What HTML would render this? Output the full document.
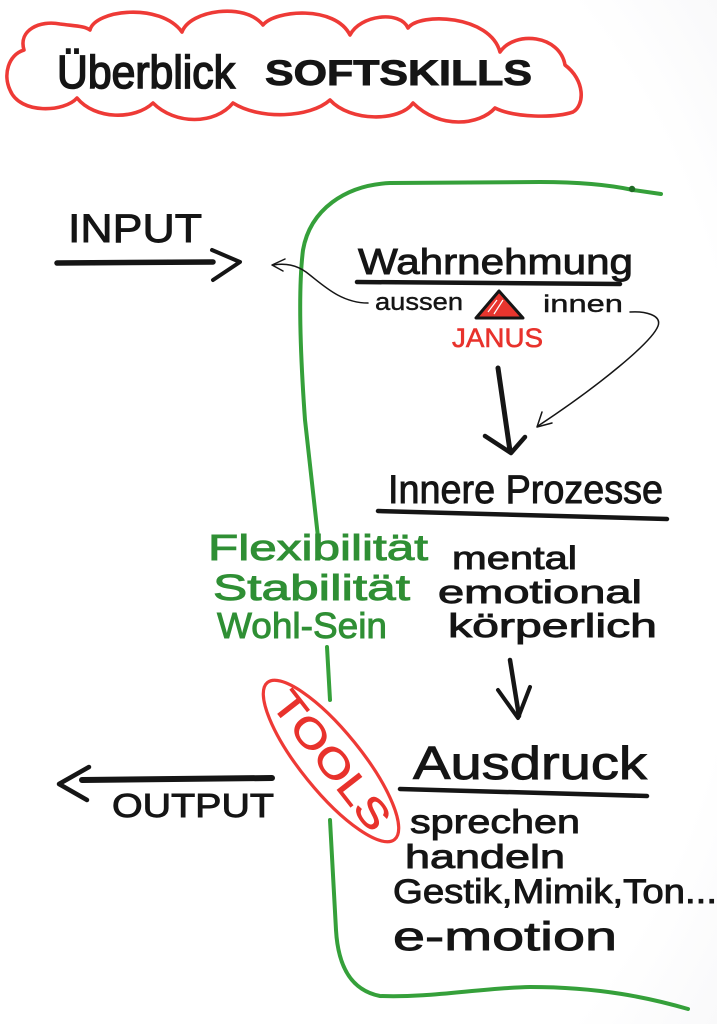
<!DOCTYPE html>
<html>
<head>
<meta charset="utf-8">
<style>
  html,body{margin:0;padding:0;background:#fff;}
  svg{display:block;}
  .hw{font-family:"Liberation Sans","DejaVu Sans",sans-serif;fill:#151515;stroke:#151515;stroke-width:0.9;}
  .gr{font-family:"Liberation Sans","DejaVu Sans",sans-serif;fill:#2f8f34;stroke:#2f8f34;stroke-width:0.9;}
  .rd{font-family:"Liberation Sans","DejaVu Sans",sans-serif;fill:#e8322c;stroke:#e8322c;stroke-width:0.6;}
</style>
</head>
<body>
<svg width="717" height="1024" viewBox="0 0 717 1024" xmlns="http://www.w3.org/2000/svg">
  <defs>
    <radialGradient id="bg" cx="0.4" cy="0.5" r="0.85">
      <stop offset="0.75" stop-color="#ffffff"/>
      <stop offset="1" stop-color="#f6f6f8"/>
    </radialGradient>
  </defs>
  <rect width="717" height="1024" fill="url(#bg)"/>

  <!-- Title cloud -->
  <path d="M24,50 C18,30 40,20 60,24 C75,26 85,26 90,30
           C95,10 160,2 182,32
           C190,10 245,2 263,25
           C275,10 335,5 350,35
           C360,15 400,10 408,28
           C420,12 490,15 500,52
           C515,30 560,35 565,65 C585,80 585,105 573,112
           C555,118 515,118 495,108
           C480,125 440,130 413,103
           C400,122 350,122 330,100
           C310,118 260,120 233,103
           C215,125 175,125 153,103
           C135,120 95,120 77,98
           C65,112 20,115 10,90
           C3,75 8,55 24,50 Z"
        fill="none" stroke="#ee3a36" stroke-width="3.6" stroke-linejoin="round"/>
  <text class="hw" x="57" y="88" font-size="46" textLength="178" lengthAdjust="spacingAndGlyphs" style="stroke-width:1.6">Überblick</text>
  <text class="hw" x="265" y="85" font-size="35" font-weight="bold" textLength="267" lengthAdjust="spacingAndGlyphs">SOFTSKILLS</text>

  <!-- Green frame line -->
  <g fill="none" stroke="#35a03a" stroke-width="4" stroke-linecap="round">
    <path d="M661,194 L633,190 C610,185 580,182 540,182 L390,183 C345,185 310,210 303,250 C298,290 300,350 305,420 L318,537"/>
    <path d="M327,647 L330,700"/>
    <path d="M330,820 L336,930 C338,965 350,990 380,996 C430,998 480,988 530,987 C600,987 650,998 688,1009"/>
  </g>
  <circle cx="632" cy="189" r="3.2" fill="#1f6a25"/>

  <!-- INPUT -->
  <text class="hw" x="68" y="242" font-size="40" textLength="134" lengthAdjust="spacingAndGlyphs">INPUT</text>
  <g fill="none" stroke="#151515" stroke-linecap="round" stroke-linejoin="round">
    <path d="M57,263 L213,262" stroke-width="5.5"/>
    <path d="M212,250 L240,262 L213,280" stroke-width="4"/>
  </g>

  <!-- Wahrnehmung -->
  <text class="hw" x="358" y="274" font-size="36" textLength="275" lengthAdjust="spacingAndGlyphs">Wahrnehmung</text>
  <path d="M357,282 L620,284" stroke="#151515" stroke-width="4.5" stroke-linecap="round" fill="none"/>
  <text class="hw" x="375" y="310" font-size="24" textLength="88" lengthAdjust="spacingAndGlyphs" style="stroke-width:0.4">aussen</text>
  <text class="hw" x="543" y="312" font-size="24" textLength="80" lengthAdjust="spacingAndGlyphs" style="stroke-width:0.4">innen</text>
  <!-- Janus triangle -->
  <polygon points="499,291 476,318 523,318" fill="#e8352e" stroke="#151515" stroke-width="3" stroke-linejoin="round"/>
  <path d="M497,300 L488,312 M503,300 L494,314" stroke="#ffffff" stroke-width="1.2" fill="none"/>
  <text class="rd" x="452" y="347" font-size="27" textLength="91" lengthAdjust="spacingAndGlyphs">JANUS</text>

  <!-- thin arrows -->
  <g fill="none" stroke="#151515" stroke-width="1.5" stroke-linecap="round" stroke-linejoin="round">
    <path d="M368,303 C340,303 322,284 306,272 C296,265 286,263 273,265"/>
    <path d="M285,259 L272,265 L283,271"/>
    <path d="M630,312 C645,311 662,315 658,326 C652,342 600,385 538,426"/>
    <path d="M542,412 L537,427 L552,423"/>
  </g>

  <!-- big arrow 1 -->
  <g fill="none" stroke="#151515" stroke-linecap="round" stroke-linejoin="round">
    <path d="M498,368 L510,451" stroke-width="5"/>
    <path d="M485,436 L511,453 L525,437" stroke-width="4.5"/>
  </g>

  <!-- Innere Prozesse -->
  <text class="hw" x="388" y="503" font-size="40" textLength="275" lengthAdjust="spacingAndGlyphs">Innere Prozesse</text>
  <path d="M378,511 L667,519" stroke="#151515" stroke-width="4.5" stroke-linecap="round" fill="none"/>

  <!-- green words -->
  <text class="gr" x="208" y="560" font-size="36" textLength="220" lengthAdjust="spacingAndGlyphs">Flexibilität</text>
  <text class="gr" x="213" y="600" font-size="36" textLength="197" lengthAdjust="spacingAndGlyphs">Stabilität</text>
  <text class="gr" x="217" y="638" font-size="36" textLength="170" lengthAdjust="spacingAndGlyphs">Wohl-Sein</text>

  <!-- mental etc -->
  <text class="hw" x="452" y="569" font-size="32" textLength="125" lengthAdjust="spacingAndGlyphs">mental</text>
  <text class="hw" x="438" y="603" font-size="32" textLength="204" lengthAdjust="spacingAndGlyphs">emotional</text>
  <text class="hw" x="448" y="637" font-size="33" textLength="209" lengthAdjust="spacingAndGlyphs">körperlich</text>

  <!-- big arrow 2 -->
  <g fill="none" stroke="#151515" stroke-linecap="round" stroke-linejoin="round">
    <path d="M510,660 L519,716" stroke-width="4.5"/>
    <path d="M498,690 L518,718 L530,687" stroke-width="4"/>
  </g>

  <!-- OUTPUT -->
  <g fill="none" stroke="#151515" stroke-linecap="round" stroke-linejoin="round">
    <path d="M82,780 L272,778" stroke-width="6"/>
    <path d="M89,767 L59,784 L87,800" stroke-width="4.5"/>
  </g>
  <text class="hw" x="112" y="817" font-size="33" textLength="162" lengthAdjust="spacingAndGlyphs">OUTPUT</text>

  <!-- TOOLS -->
  <ellipse cx="331" cy="761" rx="101" ry="30" transform="rotate(51 331 761)" fill="none" stroke="#ee3a36" stroke-width="3.2"/>
  <text class="rd" x="331" y="761" font-size="40" text-anchor="middle" dominant-baseline="central" textLength="165" lengthAdjust="spacingAndGlyphs" transform="rotate(52 331 761)" style="stroke-width:0.8">TOOLS</text>

  <!-- Ausdruck -->
  <text class="hw" x="413" y="779" font-size="46" textLength="234" lengthAdjust="spacingAndGlyphs">Ausdruck</text>
  <path d="M400,789 L647,796" stroke="#151515" stroke-width="4.5" stroke-linecap="round" fill="none"/>
  <text class="hw" x="410" y="833" font-size="33" textLength="170" lengthAdjust="spacingAndGlyphs">sprechen</text>
  <text class="hw" x="405" y="868" font-size="33" textLength="160" lengthAdjust="spacingAndGlyphs">handeln</text>
  <text class="hw" x="393" y="903" font-size="34" textLength="324" lengthAdjust="spacingAndGlyphs">Gestik,Mimik,Ton...</text>
  <text class="hw" x="393" y="950" font-size="40" textLength="224" lengthAdjust="spacingAndGlyphs">e-motion</text>
</svg>
</body>
</html>
